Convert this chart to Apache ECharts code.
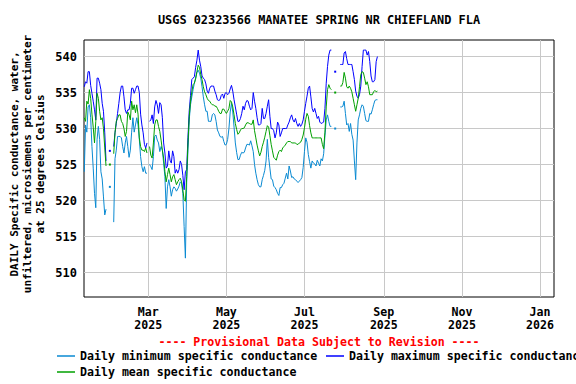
<!DOCTYPE html>
<html>
<head>
<meta charset="utf-8">
<script src="https://cdn.jsdelivr.net/npm/echarts@6.0.0/dist/echarts.min.js"></script>
<style>
html,body{margin:0;padding:0;background:#fff;}
#chart{width:576px;height:384px;}
</style>
</head>
<body>
<div id="chart"></div>
<script>
// ---- data ----
const startDate = [2025, 0, 10]; // first daily value: 2025-01-10
const minVals = [
524.0,530.5,529.5,533.0,533.3,531.5,527.5,524.5,521.0,519.0,
528.5,530.3,528.5,524.0,523.0,520.5,518.0,518.8,null,null,
521.9,null,null,517.0,525.8,527.0,528.9,528.9,528.9,528.7,
527.5,526.6,528.0,528.9,527.5,526.0,527.0,529.5,531.5,529.5,
530.5,531.5,530.5,528.5,526.1,524.7,524.0,524.7,523.8,523.8,
null,525.0,524.7,524.3,526.1,528.9,529.1,528.4,528.0,526.8,
527.5,527.0,525.2,523.3,518.9,521.9,522.9,521.9,520.6,521.5,
521.9,521.7,521.3,521.6,522.0,522.6,522.4,521.0,516.4,512.0,
522.5,527.0,531.2,533.3,534.4,535.4,536.3,536.9,537.8,538.1,
537.7,537.0,535.8,534.4,533.3,532.4,532.4,531.0,531.0,531.0,
531.9,532.1,531.9,531.0,529.8,529.4,528.9,528.8,528.9,528.2,
527.7,527.8,528.5,530.0,532.3,533.5,532.3,530.2,528.0,526.7,
525.7,525.7,526.3,526.7,526.6,526.7,527.3,527.8,527.8,527.7,
528.3,527.6,526.8,525.0,523.8,522.9,522.2,521.9,521.9,522.9,
523.5,524.2,525.5,528.5,526.0,524.5,523.0,522.9,522.0,521.8,
521.5,521.0,520.7,521.8,521.8,522.2,522.4,523.1,523.8,523.0,
524.8,524.1,523.2,523.3,523.0,522.9,522.7,522.5,522.7,522.9,
523.2,524.6,526.8,528.7,528.1,526.4,525.4,524.5,525.5,525.2,
525.1,524.8,525.6,525.2,524.8,525.8,525.5,526.5,529.0,531.2,
531.9,531.0,530.3,530.3,null,null,530.0,null,null,null,
533.0,533.0,533.1,533.8,532.1,530.5,530.7,529.6,530.7,529.2,
528.4,525.5,522.9,528.0,531.2,531.9,532.8,533.3,533.1,532.1,
531.1,531.0,531.0,532.1,532.0,532.6,533.3,533.9,534.0,534.0
];
const maxVals = [
535.8,536.5,536.3,537.9,537.9,536.0,534.9,533.8,532.6,531.2,
537.0,537.0,536.3,535.4,533.5,532.4,529.4,525.5,null,null,
526.9,null,null,527.5,529.4,530.7,532.1,533.5,535.0,535.9,
535.9,534.4,532.6,532.1,532.6,532.6,533.5,535.6,535.6,534.9,
535.4,535.9,535.9,535.0,532.0,530.5,529.4,527.8,527.3,528.0,
null,531.0,531.2,531.9,530.7,533.0,533.9,533.3,532.1,533.6,
533.3,531.5,528.0,526.6,524.5,524.8,526.9,525.6,525.2,526.9,
526.1,523.8,524.3,523.8,524.3,525.5,525.0,523.5,521.5,524.0,
524.3,528.8,532.5,534.6,536.8,537.0,537.2,538.5,539.5,540.9,
539.5,538.6,537.3,537.0,536.8,536.2,535.2,534.9,535.6,535.9,
535.9,535.9,535.2,534.7,534.0,533.9,534.0,534.6,534.8,534.2,
534.9,535.0,534.7,534.9,535.5,536.0,535.2,534.0,533.0,532.0,
531.0,531.0,531.4,532.1,533.1,532.6,533.5,533.9,533.8,533.1,
532.6,532.8,535.0,533.8,532.8,531.5,530.5,530.5,530.7,532.8,
531.4,531.4,532.1,533.1,534.0,531.7,530.0,530.0,529.7,528.7,
529.4,530.9,530.5,528.9,529.4,530.0,530.0,530.0,530.0,530.5,
530.9,531.5,531.9,531.2,530.9,531.4,530.7,530.3,530.7,530.3,
530.6,531.2,532.4,533.5,534.5,535.6,535.9,534.4,532.8,532.3,
532.8,532.1,531.4,531.7,530.9,530.7,530.8,530.9,532.8,536.3,
538.6,540.2,540.9,540.9,null,null,537.9,null,null,null,
538.9,538.9,538.9,540.5,540.7,539.7,538.9,538.9,538.9,538.9,
537.9,536.8,535.2,534.5,534.2,534.7,535.9,538.6,540.9,540.9,
540.9,540.2,540.7,539.3,537.3,536.5,536.5,536.8,539.3,540.0
];
const meanVals = [
531.5,531.0,533.8,533.4,535.4,534.2,532.0,530.2,528.0,531.0,
534.9,534.2,532.4,531.2,531.5,530.0,527.3,524.8,null,null,
525.0,null,null,526.5,529.4,531.0,531.4,531.9,531.9,531.0,
530.7,530.0,528.9,529.6,532.3,531.9,531.2,533.8,532.6,533.3,
532.2,533.3,532.0,528.7,527.5,527.0,527.0,526.8,527.3,526.6,
null,527.5,526.3,525.9,528.0,530.5,531.2,531.2,530.3,529.6,
528.4,527.0,525.9,524.0,522.6,523.6,524.5,523.6,522.6,523.3,
523.6,522.9,522.2,522.6,522.9,523.1,522.6,521.5,520.1,519.9,
523.3,528.0,531.7,533.8,535.1,536.1,536.3,537.0,537.9,538.8,
538.5,537.5,536.8,535.8,535.1,534.7,534.2,533.9,533.8,533.5,
533.3,533.3,533.1,533.1,532.8,532.4,532.1,532.1,532.7,532.7,
532.4,532.1,532.4,532.8,533.9,533.7,533.0,531.9,530.7,529.9,
529.2,529.4,529.8,530.0,530.0,530.1,530.5,530.8,530.8,530.7,
530.6,530.6,531.2,529.7,528.7,527.7,526.9,526.2,526.7,527.5,
528.1,528.8,529.6,530.4,530.2,529.0,527.8,526.9,526.0,525.8,
525.6,526.3,526.8,527.0,526.8,527.3,527.5,527.7,528.0,528.2,
528.2,528.2,528.0,528.0,528.0,528.0,527.8,527.8,528.0,528.1,
528.5,529.1,530.1,531.3,532.1,531.7,530.4,529.4,528.7,528.7,
528.7,528.7,528.7,528.7,528.7,528.7,527.8,527.2,529.5,533.0,
535.4,536.1,535.6,535.4,null,null,535.0,null,null,null,
535.9,535.9,536.4,537.8,537.0,535.8,535.6,535.9,535.6,535.1,
534.2,533.3,532.4,533.3,534.2,535.8,537.5,537.9,537.8,537.0,
536.1,536.5,535.8,534.7,534.7,534.7,535.1,535.3,535.1,535.2
];
const xTickDates = ['2025-03-01','2025-05-01','2025-07-01','2025-09-01','2025-11-01','2026-01-01'];
const yTicks = [510, 515, 520, 525, 530, 535, 540];
const monthNames = ['Jan','Feb','Mar','Apr','May','Jun','Jul','Aug','Sep','Oct','Nov','Dec'];
const seriesNames = ['Daily minimum specific conductance','Daily maximum specific conductance','Daily mean specific conductance'];
const titleText = 'USGS 02323566 MANATEE SPRING NR CHIEFLAND FLA';
const yName = 'DAILY Specific conductance, water,\nunfiltered, microsiemens per centimeter\nat 25 degrees Celsius';
const provisional = '---- Provisional Data Subject to Revision ----';

// ---- build ----
const toLocal = s => { const [y,m,d] = s.split('-').map(Number); return new Date(y, m - 1, d).getTime(); };
const dates = minVals.map((_, i) => new Date(startDate[0], startDate[1], startDate[2] + i).getTime());
// isolated daily values (no neighbour on either side) get a tiny square so they stay visible
const pairs = (vals, color) => vals.map((v, i) => {
  if (v === null) return [dates[i], '-'];
  const lone = (i > 0 && vals[i - 1] === null) && (i < vals.length - 1 && vals[i + 1] === null);
  return lone ? {value: [dates[i], v], symbol: 'rect', symbolSize: 2, itemStyle: {color: color}} : [dates[i], v];
});
const xTicks = xTickDates.map(toLocal);

const FONT = 'DejaVu Sans Mono';
const colors = ['#0a8ad2', '#0000ff', '#00a000'];
const chart = echarts.init(document.getElementById('chart'), null, {renderer: 'svg'});
const legendText = {fontFamily: FONT, fontWeight: 'bold', fontSize: 11.6, color: '#000'};
const mkLegend = (name, left, top) => ({
  data: [name], left: left, top: top, padding: 0, icon: 'rect', itemWidth: 18, itemHeight: 1.5,
  selectedMode: false, textStyle: legendText
});
const mkSeries = (k, vals) => ({
  name: seriesNames[k], type: 'line', data: pairs(vals, colors[k]),
  showSymbol: true, symbol: 'none', lineStyle: {color: colors[k], width: 1}, itemStyle: {color: colors[k]}
});

chart.setOption({
  animation: false,
  textStyle: {fontFamily: FONT},
  grid: {left: 84, right: 22, top: 40, bottom: 87, show: true, borderColor: '#000', borderWidth: 1, backgroundColor: 'transparent'},
  xAxis: {
    type: 'value',
    min: new Date(2025, 0, 9, 19).getTime(),
    max: new Date(2026, 0, 11, 22).getTime(),
    axisLine: {show: false},
    axisTick: {show: false, customValues: xTicks},
    splitLine: {show: true, lineStyle: {color: '#c8c8c8', width: 1}},
    axisLabel: {
      customValues: xTicks, margin: 8, lineHeight: 13, color: '#000',
      fontFamily: FONT, fontWeight: 'bold', fontSize: 11.6, hideOverlap: false,
      formatter: v => { const d = new Date(v); return monthNames[d.getMonth()] + '\n' + d.getFullYear(); }
    }
  },
  yAxis: {
    type: 'value', min: 506.6, max: 542.3,
    axisLine: {show: false},
    axisTick: {show: false, customValues: yTicks},
    splitLine: {show: true, lineStyle: {color: '#c8c8c8', width: 1}},
    axisLabel: {customValues: yTicks, margin: 7, color: '#000', fontFamily: FONT, fontWeight: 'bold', fontSize: 12}
  },
  legend: [
    mkLegend(seriesNames[0], 57, 350),
    mkLegend(seriesNames[1], 326, 350),
    mkLegend(seriesNames[2], 57, 366)
  ],
  graphic: [
    {type: 'text', x: 319, y: 20, style: {text: titleText, align: 'center', verticalAlign: 'middle', fill: '#000', fontFamily: FONT, fontWeight: 'bold', fontSize: 11.9}},
    {type: 'text', x: 27, y: 164, rotation: Math.PI / 2, style: {text: yName, align: 'center', verticalAlign: 'middle', lineHeight: 13, fill: '#000', fontFamily: FONT, fontWeight: 'bold', fontSize: 11}},
    {type: 'text', x: 319, y: 342, style: {text: provisional, align: 'center', verticalAlign: 'middle', fill: '#ff0000', fontFamily: FONT, fontWeight: 'bold', fontSize: 11.6}}
  ],
  series: [mkSeries(0, minVals), mkSeries(1, maxVals), mkSeries(2, meanVals)]
});
</script>
</body>
</html>
